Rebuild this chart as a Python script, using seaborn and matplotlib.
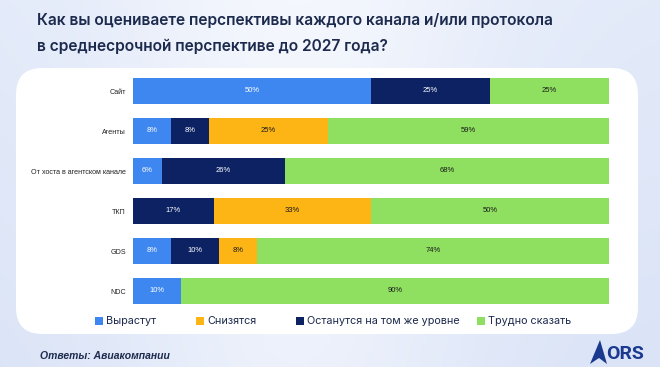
import numpy as np
import pandas as pd
import matplotlib.pyplot as plt
import seaborn as sns
from matplotlib.patches import FancyBboxPatch, Polygon, Rectangle

# Chart data
channels = ["Сайт", "Агенты", "От хоста в агентском канале", "ТКП", "GDS", "NDC"]
grow = [50, 8, 6, 0, 8, 10]            # Вырастут
same = [25, 8, 26, 17, 10, 0]          # Останутся на том же уровне
drop = [0, 25, 0, 33, 8, 0]            # Снизятся
unsure = [25, 59, 68, 50, 74, 90]      # Трудно сказать

series = [
    ("Вырастут", grow, "#3f87f0", "white"),
    ("Останутся на том же уровне", same, "#0c2262", "white"),
    ("Снизятся", drop, "#fdb515", "#1a1a1a"),
    ("Трудно сказать", unsure, "#8fdf60", "#1a1a1a"),
]
legend_order = ["Вырастут", "Снизятся", "Останутся на том же уровне", "Трудно сказать"]

sns.set_theme(style="white")
plt.rcParams["font.family"] = ["Liberation Sans", "DejaVu Sans"]

fig = plt.figure(figsize=(6.6, 3.67), dpi=100)

# background gradient
bg = fig.add_axes([0, 0, 1, 1], zorder=-10)
gx = np.linspace(0, 1, 200)
gy = np.linspace(0, 1, 120)
X, Y = np.meshgrid(gx, gy)
grad = 0.55 * np.exp(-((X - 0.45) ** 2) / 0.08) + 0.25 * Y
bg.imshow(grad, cmap=sns.blend_palette(["#dbe4f7", "#f4f7fd"], as_cmap=True),
          aspect="auto", extent=[0, 1, 0, 1], origin="lower")
bg.set_axis_off()

# white rounded panel
fig.patches.append(FancyBboxPatch((16 / 660, 1 - 334 / 367), 622 / 660, 266 / 367,
                                  boxstyle="round,pad=0,rounding_size=0.04",
                                  transform=fig.transFigure, facecolor="white",
                                  edgecolor="none", zorder=-5,
                                  mutation_aspect=660 / 367))

ax = fig.add_axes([133 / 660, 1 - 311 / 367, 476 / 660, 240 / 367])

df = pd.DataFrame({"channel": channels})
cum = np.zeros(len(channels))
cums = []
for name, vals, color, tc in series:
    cum = cum + np.array(vals)
    cums.append(cum.copy())

# draw cumulative totals back to front
for (name, vals, color, tc), c in reversed(list(zip(series, cums))):
    df["total"] = c
    sns.barplot(data=df, x="total", y="channel", color=color, width=0.63,
                saturation=1, ax=ax, orient="h", linewidth=0)

# segment labels
for (name, vals, color, tc), c in zip(series, cums):
    for i, v in enumerate(vals):
        if v > 0:
            ax.text(c[i] - v / 2, i, f"{v}%", ha="center", va="center",
                    fontsize=5.5, color=tc)

ax.set_xlim(0, 100)
ax.set_xlabel("")
ax.set_ylabel("")
ax.set_xticks([])
ax.tick_params(axis="y", length=0, labelsize=5.1, pad=5, labelcolor="#222222")
for s in ax.spines.values():
    s.set_visible(False)
ax.set_facecolor("none")

# title
title_font = ["Inter", "DejaVu Sans"]
fig.text(37 / 660, 1 - 20 / 367, "Как вы оцениваете перспективы каждого канала и/или протокола",
         fontsize=11.2, fontweight="semibold", color="#1c2a4d", va="center",
         family=title_font)
fig.text(37 / 660, 1 - 46 / 367, "в среднесрочной перспективе до 2027 года?",
         fontsize=11.2, fontweight="semibold", color="#1c2a4d", va="center",
         family=title_font)

# legend
colors = {n: c for n, _, c, _ in series}
leg_x = [95, 196, 296, 477]
for n, lx in zip(legend_order, leg_x):
    fig.patches.append(Rectangle((lx / 660, 1 - 325 / 367), 8 / 660, 8 / 367,
                                 transform=fig.transFigure, facecolor=colors[n],
                                 edgecolor="none"))
    fig.text((lx + 11) / 660, 1 - 321 / 367, n, fontsize=7.8, color="#1c2a4d",
             va="center", family=title_font)

# footer
fig.text(40 / 660, 1 - 356 / 367, "Ответы: Авиакомпании", fontsize=7.5,
         fontstyle="italic", fontweight="bold", color="#1c2a4d", va="center")

# logo
fig.patches.append(Polygon([(590 / 660, 1 - 364 / 367), (600 / 660, 1 - 340 / 367),
                            (607 / 660, 1 - 364 / 367), (599 / 660, 1 - 358 / 367)],
                           closed=True, transform=fig.transFigure,
                           facecolor="#1b3a8f", edgecolor="none"))
fig.text(606 / 660, 1 - 354 / 367, "ORS", fontsize=14, fontweight="bold",
         color="#1b3a8f", va="center", family=["Roboto", "DejaVu Sans"])

fig.savefig("out.png", dpi=100)
